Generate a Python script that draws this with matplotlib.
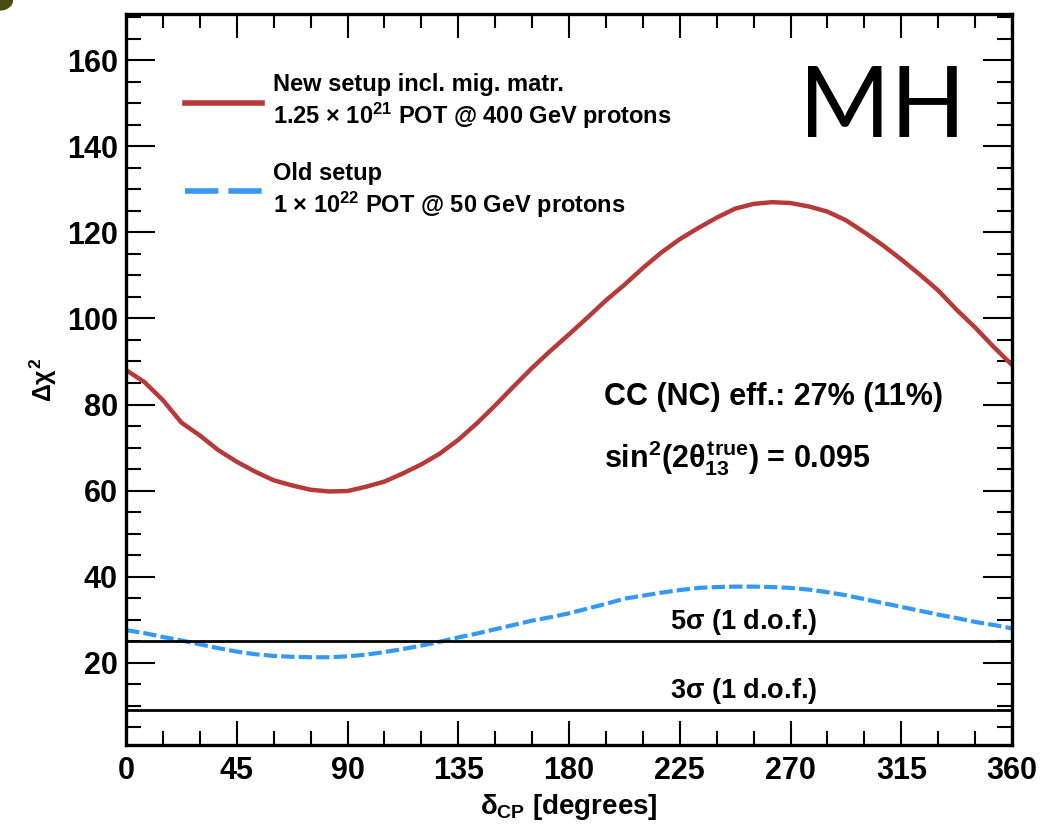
import numpy as np
import matplotlib
matplotlib.use('Agg')
import matplotlib.pyplot as plt
from matplotlib.lines import Line2D
from matplotlib.patches import Circle
from matplotlib.ticker import MultipleLocator

plt.rcParams['font.family'] = ['Liberation Sans', 'DejaVu Sans']
plt.rcParams['font.weight'] = 'bold'
plt.rcParams['axes.labelweight'] = 'bold'
plt.rcParams['mathtext.fontset'] = 'custom'
plt.rcParams['mathtext.rm'] = 'Liberation Sans:bold'
plt.rcParams['mathtext.bf'] = 'Liberation Sans:bold'
plt.rcParams['mathtext.it'] = 'Liberation Sans:bold'

# delta_CP grid (degrees)
delta_cp = [0, 7.5, 15, 22.5, 30, 37.5, 45, 52.5, 60, 67.5, 75, 82.5, 90,
            97.5, 105, 112.5, 120, 127.5, 135, 142.5, 150, 157.5, 165, 172.5, 180,
            187.5, 195, 202.5, 210, 217.5, 225, 232.5, 240, 247.5, 255, 262.5, 270,
            277.5, 285, 292.5, 300, 307.5, 315, 322.5, 330, 337.5, 345, 352.5, 360]
# new setup incl. migration matrices
chi2_new = [88.0, 85.2, 81.0, 75.8, 72.8, 69.4, 66.7, 64.4, 62.4, 61.2, 60.2, 59.8, 59.9,
            60.9, 62.1, 64.0, 66.1, 68.6, 71.8, 75.6, 79.8, 84.2, 88.5, 92.5, 96.3,
            100.2, 104.2, 107.8, 111.7, 115.3, 118.4, 121.0, 123.4, 125.5, 126.6, 127.0, 126.8,
            126.0, 124.8, 122.8, 120.0, 117.0, 113.7, 110.2, 106.5, 102.0, 97.9, 93.4, 89.2]
# old setup
chi2_old = [27.6, 26.9, 26.0, 25.2, 24.3, 23.4, 22.6, 22.0, 21.6, 21.4, 21.3, 21.3, 21.5,
            21.9, 22.5, 23.2, 24.0, 24.9, 25.9, 26.8, 27.8, 28.8, 29.8, 30.6, 31.5,
            32.6, 33.7, 34.9, 35.6, 36.3, 36.9, 37.4, 37.6, 37.7, 37.7, 37.6, 37.4,
            37.0, 36.4, 35.7, 34.8, 33.9, 33.0, 32.1, 31.2, 30.4, 29.5, 28.8, 28.0]
sigma_levels = [25, 9]
sigma_labels = [r'5$\sigma$ (1 d.o.f.)', r'3$\sigma$ (1 d.o.f.)']

label_new = 'New setup incl. mig. matr.\n1.25 \u00d7 10$^{21}$ POT @ 400 GeV protons'
label_old = 'Old setup\n1 \u00d7 10$^{22}$ POT @ 50 GeV protons'

red = '#b63a3a'
blue = '#3399f5'

fig = plt.figure(figsize=(10.4, 8.26), dpi=100)
ax = fig.add_axes([0.1212, 0.098, 0.8519, 0.885])

ax.plot(delta_cp, chi2_new, color=red, lw=3.2)
ax.plot(delta_cp, chi2_old, color=blue, lw=3.0, dashes=(3.2, 1.0))

for lev, lab in zip(sigma_levels, sigma_labels):
    ax.axhline(lev, color='black', lw=2.0)
    ax.text(251, lev + 4.4, lab, fontsize=19.5, ha='center', va='center')

ax.set_xlim(0, 360)
ax.set_ylim(0.9, 170.7)
ax.xaxis.set_major_locator(MultipleLocator(45))
ax.xaxis.set_minor_locator(MultipleLocator(15))
ax.yaxis.set_minor_locator(MultipleLocator(5))
ax.set_yticks([20, 40, 60, 80, 100, 120, 140, 160])
ax.tick_params(which='both', direction='in', top=True, right=True, width=1.5)
ax.tick_params(which='major', axis='y', length=21, labelsize=22, pad=6)
ax.tick_params(which='minor', axis='y', length=11)
ax.tick_params(which='major', axis='x', length=17, labelsize=22, pad=8)
ax.tick_params(which='minor', axis='x', length=10)
for s in ax.spines.values():
    s.set_linewidth(2.4)

ax.set_xlabel(r'$\delta_{\rm CP}$ [degrees]', fontsize=20)
ax.xaxis.set_label_coords(0.5, -0.064)
ax.set_ylabel(r'$\Delta\chi^2$', fontsize=18, fontweight='normal')
ax.yaxis.set_label_coords(-0.076, 0.5)

# legend
h_new = Line2D([], [], color=red, lw=4)
h_old = Line2D([], [], color=blue, lw=4, dashes=(6, 1.8))
leg = ax.legend([h_new, h_old], [label_new, label_old], loc='upper left',
                bbox_to_anchor=(0.066, 0.919), frameon=False, fontsize=17,
                handlelength=3.3, handletextpad=0.45, labelspacing=1.3,
                borderpad=0, borderaxespad=0)
for t in leg.get_texts():
    t.set_linespacing(1.2)

ax.text(0.54, 0.476, 'CC (NC) eff.: 27% (11%)', transform=ax.transAxes,
        fontsize=22, ha='left', va='center')
ax.text(0.54, 0.392, r'sin$^{2}$(2$\theta_{13}^{\rm true}$) = 0.095',
        transform=ax.transAxes, fontsize=22, ha='left', va='center')

ax.text(0.948, 0.87, 'MH', transform=ax.transAxes, fontsize=71,
        fontweight='normal', family='Lato', ha='right', va='center')

fig.patches.append(Circle((0.0, 1.0), 0.012, transform=fig.transFigure,
                          color='#4b4a12', clip_on=False))

fig.savefig('out.png', dpi=100)
